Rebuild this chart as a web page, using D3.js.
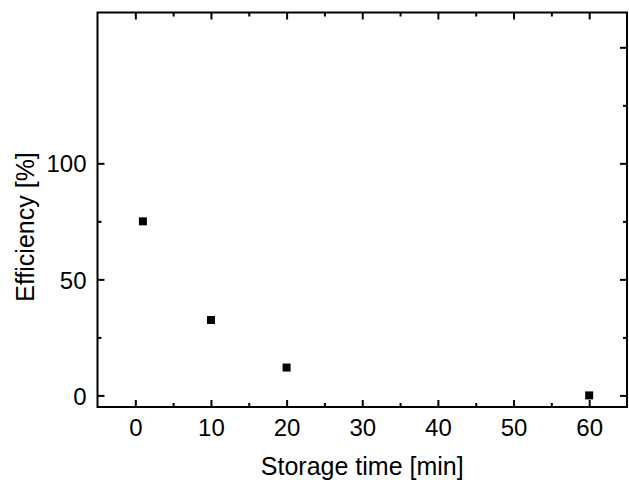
<!DOCTYPE html>
<html><head><meta charset="utf-8">
<script src="https://cdn.jsdelivr.net/npm/d3@7"></script>
<style>
html,body{margin:0;padding:0;background:#fff;}
text{font-family:"Liberation Sans",Arial,sans-serif;fill:#000;}
</style></head>
<body>
<svg id="c" width="629" height="480"></svg>
<script>
const storageTime = [1, 10, 20, 60];
const efficiency = [75, 32.5, 12, 0];
const xMajorTicks = [0, 10, 20, 30, 40, 50, 60];
const xMinorTicks = [5, 15, 25, 35, 45, 55];
const yMajorLabeled = [0, 50, 100];
const yMinorLeft = [25, 75];
const yMajorRight = [0, 50, 100, 150];
const yMinorRight = [25, 75, 125];

const svg = d3.select("#c");
const x = d3.scaleLinear().domain([-5, 65]).range([97.5, 627]);
const y = d3.scaleLinear().domain([-5, 165]).range([407, 12.5]);

const g = svg.append("g");
const sw = 2;

function axis(gen, ticks, len, tr, labels) {
  const a = g.append("g").attr("transform", tr)
    .call(gen.tickValues(ticks).tickSize(len).tickSizeOuter(0).tickFormat(labels ? d3.format("d") : ""));
  a.select(".domain").remove();
  a.selectAll(".tick line").attr("stroke", "#000").attr("stroke-width", sw);
  return a;
}
// bottom (inward ticks)
const bMaj = axis(d3.axisBottom(x), xMajorTicks, -7, `translate(0,${y(-5)})`, true);
bMaj.selectAll(".tick text").attr("y", 28.5).attr("dy", 0).style("font-size", "24px")
  .style("font-family", '"Liberation Sans",Arial,sans-serif');
axis(d3.axisBottom(x), xMinorTicks, -4, `translate(0,${y(-5)})`, false);
// top
axis(d3.axisTop(x), xMajorTicks, -7, `translate(0,${y(165)})`, false);
axis(d3.axisTop(x), xMinorTicks, -4, `translate(0,${y(165)})`, false);
// left
const lMaj = axis(d3.axisLeft(y), yMajorLabeled, -7, `translate(${x(-5)},0)`, true);
lMaj.selectAll(".tick text").attr("x", -11).attr("dy", "0.36em").style("font-size", "24px")
  .style("font-family", '"Liberation Sans",Arial,sans-serif');
axis(d3.axisLeft(y), yMinorLeft, -4, `translate(${x(-5)},0)`, false);
// right
axis(d3.axisRight(y), yMajorRight, -7, `translate(${x(65)},0)`, false);
axis(d3.axisRight(y), yMinorRight, -4, `translate(${x(65)},0)`, false);

// frame
g.append("rect").attr("x", x(-5)).attr("y", y(165))
  .attr("width", x(65) - x(-5)).attr("height", y(-5) - y(165))
  .attr("fill", "none").attr("stroke", "#000").attr("stroke-width", sw);

// points
const pts = storageTime.map((t, i) => ({t, e: efficiency[i]}));
g.selectAll("rect.pt").data(pts).enter().append("rect").attr("class", "pt")
  .attr("x", d => x(d.t) - 4).attr("y", d => y(d.e) - 4)
  .attr("width", 8).attr("height", 8).attr("fill", "#000");

// titles
svg.append("text").attr("x", (x(-5) + x(65)) / 2).attr("y", 475)
  .attr("text-anchor", "middle").style("font-size", "25px").text("Storage time [min]");
svg.append("text").attr("transform", "translate(34,227) rotate(-90)")
  .attr("text-anchor", "middle").style("font-size", "25px").text("Efficiency [%]");
</script>
</body></html>
